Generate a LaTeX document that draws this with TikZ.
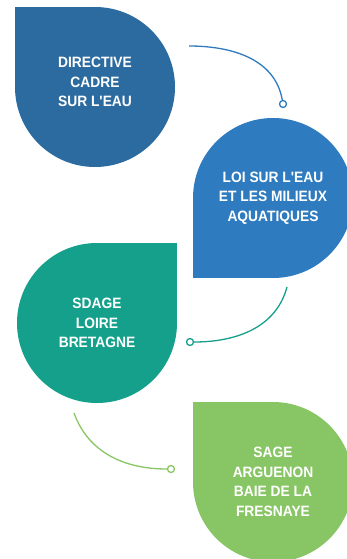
\documentclass[tikz,border=0pt]{standalone}
\usepackage{fontspec}
\newfontfamily\dropfont{Liberation Sans Bold}[FakeStretch=0.92]
\usepackage{tikz}
\usetikzlibrary{backgrounds}
\definecolor{dceblue}{HTML}{2C6BA0}
\definecolor{lemablue}{HTML}{2E7BC0}
\definecolor{sdteal}{HTML}{14A08B}
\definecolor{sagegreen}{HTML}{88C665}

\begin{document}
\begin{tikzpicture}[
      x=1pt,y=1pt,
      drop/.style={circle,minimum size=160pt,inner sep=0pt,text=white,align=center,
        font=\dropfont\fontsize{15}{19.5}\selectfont},
      link/.style={line width=1.3pt,draw=#1},
      dot/.style={circle,draw=#1,fill=white,line width=1.3pt,minimum size=7pt,inner sep=0pt}
      ]
      \useasboundingbox (0,0) rectangle (347,-559);
      \node[drop,fill=dceblue] (dce) at (95,-87) {DIRECTIVE\\CADRE\\SUR L'EAU\\[-9.5pt]};
      \node[drop,fill=lemablue] (lema) at (273,-198) {LOI SUR L'EAU\\ET LES MILIEUX\\AQUATIQUES};
      \node[drop,fill=sdteal] (sdage) at (97,-323) {SDAGE\\LOIRE\\BRETAGNE};
      \node[drop,fill=sagegreen] (sage) at (273,-482) {SAGE\\ARGUENON\\BAIE DE LA\\FRESNAYE};
      \begin{scope}[on background layer]
        \fill[dceblue] (dce.center) rectangle (dce.west |- dce.north);
        \fill[lemablue] (lema.center) rectangle (lema.west |- lema.south);
        \fill[sdteal] (sdage.center) rectangle (sdage.east |- sdage.north);
        \fill[sagegreen] (sage.center) rectangle (sage.west |- sage.north);
      \end{scope}
      % connectors
      \coordinate (s1) at (189,-46);
      \coordinate (s2) at (287,-287);
      \coordinate (s3) at (74,-413);
      \node[dot=lemablue] (e1) at (283,-104) {};
      \node[dot=sdteal] (e2) at (190,-342) {};
      \node[dot=sagegreen] (e3) at (171,-469) {};
      \draw[link=lemablue] (s1) to[out=0,in=100] (e1);
      \draw[link=sdteal] (s2) to[out=-105,in=0] (e2);
      \draw[link=sagegreen] (s3) to[out=-70,in=180] (e3);
    \end{tikzpicture}
\end{document}
